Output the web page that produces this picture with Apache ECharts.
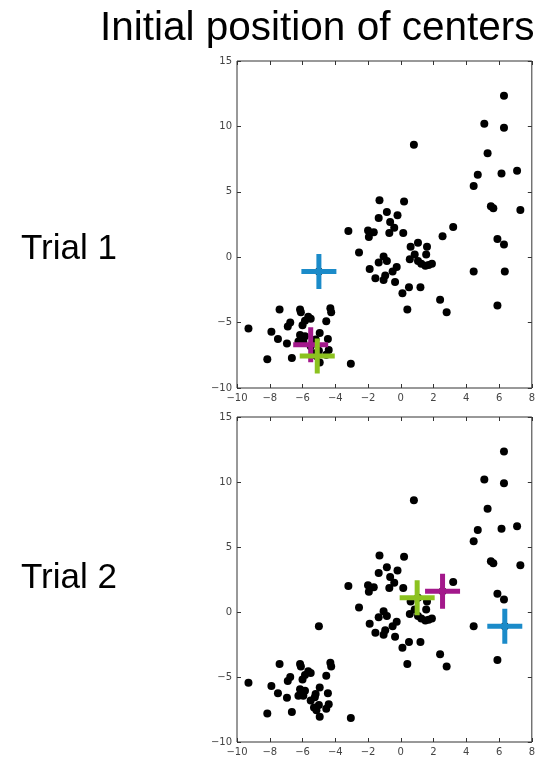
<!DOCTYPE html>
<html>
<head>
<meta charset="utf-8">
<script src="https://cdn.jsdelivr.net/npm/echarts@6/dist/echarts.min.js"></script>
<style>
  html, body { margin: 0; padding: 0; background: #fff; }
  #chart { width: 538px; height: 757px; }
</style>
</head>
<body>
<div id="chart"></div>
<script>
// data points (same set in both trials)
const points = [
  [6.3, 12.35], [5.1, 10.2], [6.3, 9.9], [0.8, 8.6], [5.3, 7.95], [7.1, 6.6],
  [6.15, 6.4], [4.7, 6.3], [4.45, 5.45], [5.5, 3.9], [5.65, 3.75], [7.3, 3.6],
  [5.9, 1.4], [6.3, 0.97], [4.45, -1.1], [6.35, -1.1], [5.9, -3.7],
  [-1.3, 4.35], [0.2, 4.25], [-0.85, 3.45], [-0.2, 3.2], [-1.35, 3.0], [-0.65, 2.7],
  [-0.4, 2.25], [3.2, 2.3], [-3.2, 2.0], [-2.0, 2.05], [-1.65, 1.9], [-1.95, 1.55],
  [-0.7, 1.85], [0.15, 1.85], [2.55, 1.6], [1.05, 1.1], [0.6, 0.8], [1.6, 0.8],
  [-2.55, 0.35], [0.85, 0.2], [1.55, 0.2], [-1.05, 0.05], [0.55, -0.15], [-0.85, -0.3],
  [-1.35, -0.4], [1.05, -0.3], [1.25, -0.5], [1.9, -0.5], [1.5, -0.65], [1.7, -0.6],
  [-0.25, -0.75], [-1.9, -0.9], [-0.5, -1.1], [-1.55, -1.6], [-0.95, -1.4], [-1.05, -1.75],
  [-0.35, -1.9], [0.5, -2.3], [1.2, -2.3], [0.1, -2.75], [2.4, -3.25], [0.4, -4.0], [2.8, -4.2],
  [-5.0, -1.1], [-7.4, -4.0], [-6.15, -4.0], [-6.1, -4.2], [-4.3, -3.9], [-4.25, -4.2],
  [-5.65, -4.55], [-5.5, -4.7], [-5.85, -4.85], [-4.55, -4.9], [-6.75, -5.0], [-6.9, -5.3],
  [-6.0, -5.2], [-9.3, -5.45], [-7.9, -5.7], [-4.95, -5.8], [-6.15, -5.95], [-5.85, -6.05],
  [-7.5, -6.25], [-5.2, -6.3], [-4.45, -6.25], [-6.25, -6.45], [-5.95, -6.45], [-6.95, -6.6],
  [-5.25, -6.55], [-5.5, -6.8], [-4.4, -7.1], [-5.0, -7.15], [-5.3, -7.35], [-4.55, -7.45],
  [-5.15, -7.55], [-6.65, -7.7], [-8.15, -7.8], [-4.95, -8.05], [-3.05, -8.15]
];

// initial centers [blue, magenta, green]
const trial1Centers = [[-5.0, -1.1], [-5.5, -6.7], [-5.1, -7.55]];
const trial2Centers = [[6.35, -1.1], [2.55, 1.6], [1.0, 1.1]];
const centerColors = ['#1b8bc9', '#a3188b', '#8cc21f'];

const xTicks = { min: -10, max: 8, interval: 2 };
const yTicks = { min: -10, max: 15, interval: 5 };

const title = 'Initial position of centers';
const trialLabels = ['Trial 1', 'Trial 2'];

const plus = 'path://M6,0H8V6H14V8H8V14H6V8H0V6H6Z';
const minus = (v) => String(v).replace('-', '\u2212');

const gridTops = [61, 417];

function axisPair(kind, gridIndex) {
  const t = kind === 'x' ? xTicks : yTicks;
  const base = {
    type: 'value', gridIndex: gridIndex,
    min: t.min, max: t.max, interval: t.interval,
    splitLine: { show: false },
    axisLine: { show: false, onZero: false },
    axisTick: { show: true, inside: true, length: 4, lineStyle: { color: '#333' } }
  };
  const main = Object.assign({}, base, {
    position: kind === 'x' ? 'bottom' : 'left',
    axisLabel: {
      show: true, formatter: minus, color: '#444', fontSize: 10,
      fontFamily: 'DejaVu Sans', margin: 5,
      showMinLabel: true, showMaxLabel: true
    }
  });
  const other = Object.assign({}, base, {
    position: kind === 'x' ? 'top' : 'right',
    axisLabel: { show: false }
  });
  return [main, other];
}

const grid = gridTops.map(top => ({
  left: 237, top: top, width: 297, height: 327,
  show: true, borderColor: '#333', borderWidth: 1, backgroundColor: '#fff'
}));

const xAxis = [].concat(axisPair('x', 0), axisPair('x', 1));
const yAxis = [].concat(axisPair('y', 0), axisPair('y', 1));

const series = [];
[trial1Centers, trial2Centers].forEach((centers, g) => {
  series.push({
    type: 'scatter', xAxisIndex: g * 2, yAxisIndex: g * 2,
    data: points, symbolSize: 8, itemStyle: { color: '#000', opacity: 1 },
    silent: true, z: 2
  });
  centers.forEach((c, i) => {
    series.push({
      type: 'scatter', xAxisIndex: g * 2, yAxisIndex: g * 2,
      data: [c], symbol: plus, symbolSize: 35, zlevel: 1,
      itemStyle: { color: centerColors[i], opacity: 1 }, silent: true, z: 10 + i
    });
  });
});

const chart = echarts.init(document.getElementById('chart'));
chart.setOption({
  animation: false,
  title: [
    { text: title, left: 95, top: 3,
      textStyle: { fontSize: 40.5, fontWeight: 'normal', color: '#000', fontFamily: 'Liberation Sans' } },
    { text: trialLabels[0], left: 16, top: 227,
      textStyle: { fontSize: 35, fontWeight: 'normal', color: '#000', fontFamily: 'Liberation Sans' } },
    { text: trialLabels[1], left: 16, top: 556,
      textStyle: { fontSize: 35, fontWeight: 'normal', color: '#000', fontFamily: 'Liberation Sans' } }
  ],
  grid: grid,
  xAxis: xAxis,
  yAxis: yAxis,
  series: series
});
</script>
</body>
</html>
